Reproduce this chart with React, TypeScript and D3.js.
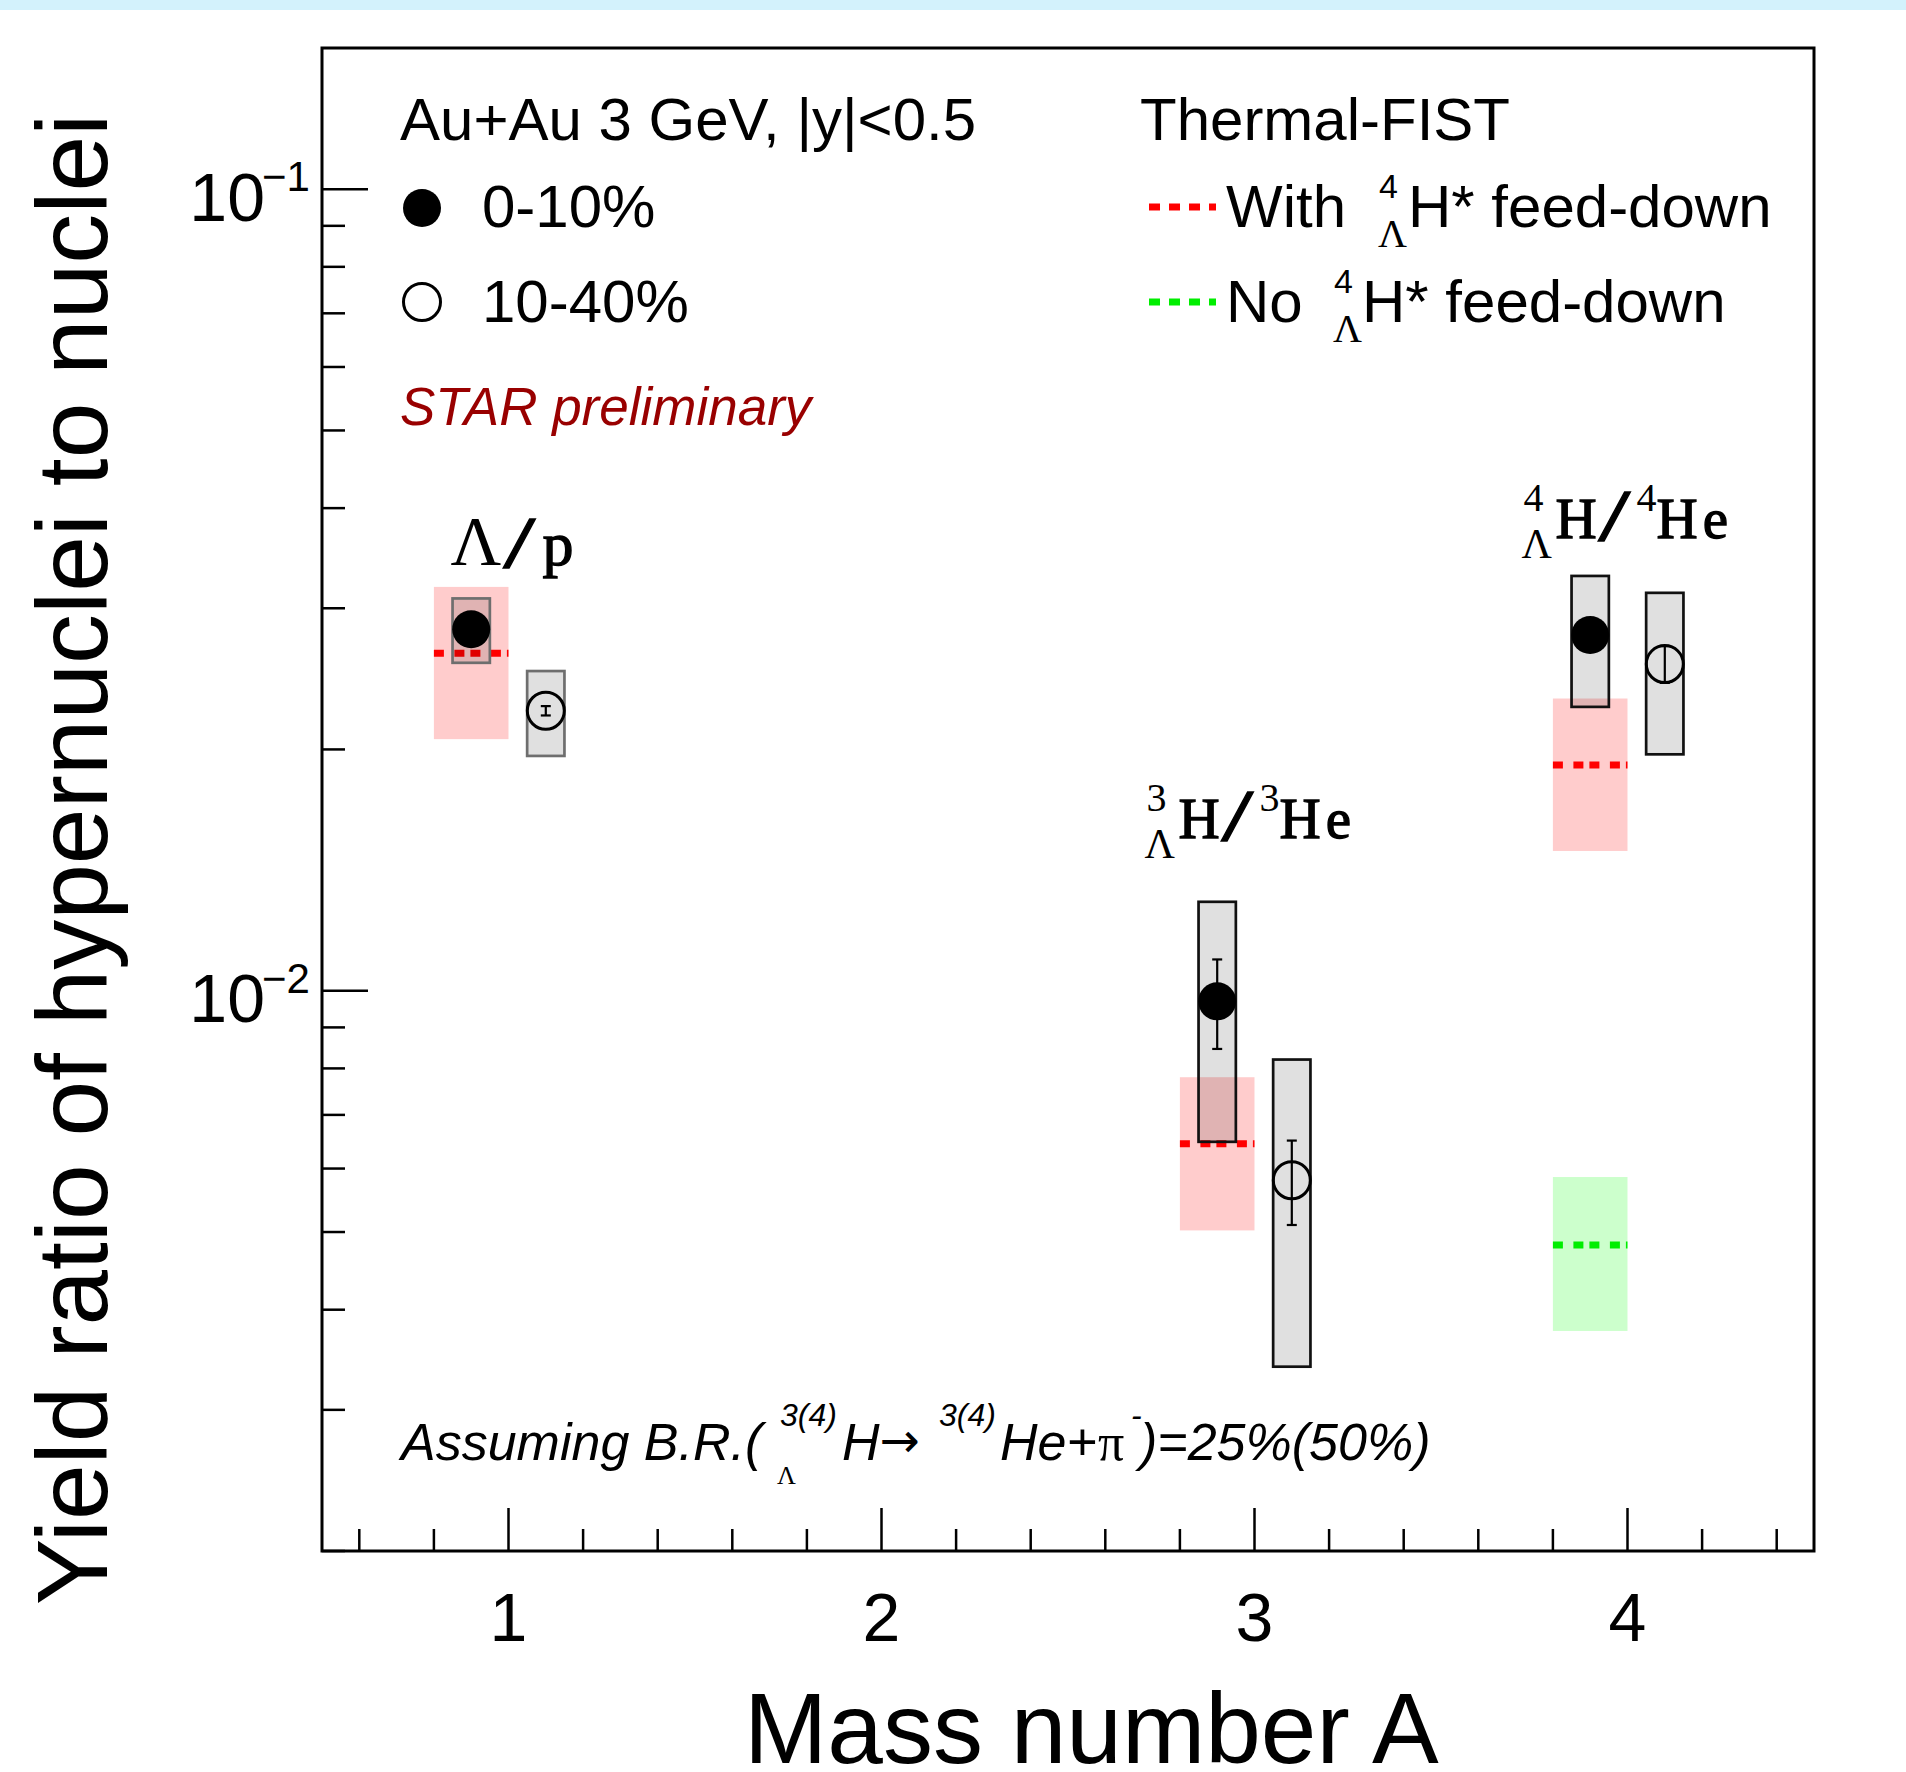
import React from "react";
import * as d3 from "d3";

// ---------------- data ----------------
const massNumbers = [1, 3, 4];
const ratioNames = ["Λ/p", "3ΛH/3He", "4ΛH/4He"];
const nucleusSymbols = ["p", "He", "He"];

// 0-10% centrality
const central010 = [0.02825, 0.0097, 0.02778];
const stat010 = [0.0003, 0.00124, 0.0008];
const sysLow010 = [0.02565, 0.006479, 0.0226];
const sysHigh010 = [0.03086, 0.01291, 0.03292];

// 10-40% centrality
const central1040 = [0.02235, 0.005802, 0.02556];
const stat1040 = [0.0003, 0.0007, 0.00135];
const sysLow1040 = [0.01963, 0.003396, 0.01972];
const sysHigh1040 = [0.02505, 0.008206, 0.03136];

// Thermal-FIST, with 4ΛH* feed-down
const fistWith = [0.02636, 0.006442, 0.01912];
const fistWithLow = [0.0206, 0.005023, 0.01494];
const fistWithHigh = [0.0319, 0.0078, 0.02315];

// Thermal-FIST, no 4ΛH* feed-down (A = 4 only)
const fistNoMass = [4];
const fistNo = [0.004818];
const fistNoLow = [0.003763];
const fistNoHigh = [0.005856];

const xTickValues = [1, 2, 3, 4];
const yMajorTicks = [0.01, 0.1];
const yMajorExponents = ["−2", "−1"];

// ---------------- layout ----------------
const W = 1906;
const H = 1772;
const plot = { left: 322, right: 1814, top: 48, bottom: 1551 };
const SANS = "'Liberation Sans', Arial, Helvetica, sans-serif";
const SERIF = "'Liberation Serif', 'Times New Roman', serif";
const MONO = "'Liberation Mono', monospace";

const x = d3.scaleLinear().domain([0.5, 4.5]).range([plot.left, plot.right]);
const y = d3.scaleLog().domain([0.002, 0.15]).range([plot.bottom, plot.top]);

const dataOffset = 0.1; // 0-10% at A-0.1, 10-40% at A+0.1
const boxHalf = 0.05;
const modelLeft = 0.2; // model band from A-0.2 to A

function HyperLabel({ x0, base, a, nuc }: { x0: number; base: number; a: string; nuc: string }) {
  return (
    <g fill="#000">
      <text x={x0 + 2} y={base - 27} fontFamily={SERIF} fontSize={40}>{a}</text>
      <text x={x0} y={base + 20} fontFamily={SERIF} fontSize={42}>Λ</text>
      <text x={x0 + 34} y={base} fontFamily={SERIF} fontSize={57} stroke="#000" strokeWidth={1.3}>H</text>
      <text x={x0 + 73} y={base + 2} fontFamily={MONO} fontSize={66} stroke="#000" strokeWidth={1.4}>/</text>
      <text x={x0 + 115} y={base - 27} fontFamily={SERIF} fontSize={40}>{a}</text>
      <text x={x0 + 135} y={base} fontFamily={SERIF} fontSize={57} letterSpacing={5} stroke="#000" strokeWidth={1.3}>{nuc}</text>
    </g>
  );
}

export default function App() {
  const minorX = d3
    .range(3, 23)
    .map((i) => i * 0.2)
    .filter((v) => Math.abs(v - Math.round(v)) > 1e-6);
  const yTicks = y.ticks().filter((t) => t >= 0.002 && t <= 0.15);
  const isMajorY = (t: number) => yMajorTicks.some((m) => Math.abs(t - m) / m < 1e-6);

  const bands = massNumbers.map((a, i) => ({
    x0: x(a - modelLeft),
    x1: x(a),
    yc: y(fistWith[i]),
    ylo: y(fistWithLow[i]),
    yhi: y(fistWithHigh[i]),
  }));
  const greenBands = fistNoMass.map((a, i) => ({
    x0: x(a - modelLeft),
    x1: x(a),
    yc: y(fistNo[i]),
    ylo: y(fistNoLow[i]),
    yhi: y(fistNoHigh[i]),
  }));

  const series = [
    { c: central010, s: stat010, lo: sysLow010, hi: sysHigh010, off: -dataOffset, filled: true },
    { c: central1040, s: stat1040, lo: sysLow1040, hi: sysHigh1040, off: dataOffset, filled: false },
  ];

  const dashData = "10 10.5 10 6";

  return (
    <svg
      width={W}
      height={H}
      viewBox={`0 0 ${W} ${H}`}
      style={{ position: "absolute", left: 0, top: 0, background: "#fff" }}
    >
      <rect x={0} y={0} width={W} height={H} fill="#fff" />
      <rect x={0} y={0} width={W} height={10} fill="#d3f2fc" />

      {/* model bands */}
      {bands.map((b, i) => (
        <rect key={`pb${i}`} x={b.x0} y={b.yhi} width={b.x1 - b.x0} height={b.ylo - b.yhi} fill="rgba(255,0,0,0.2)" />
      ))}
      {greenBands.map((b, i) => (
        <rect key={`gb${i}`} x={b.x0} y={b.yhi} width={b.x1 - b.x0} height={b.ylo - b.yhi} fill="rgba(0,255,0,0.2)" />
      ))}
      {bands.map((b, i) => (
        <line key={`pl${i}`} x1={b.x0} x2={b.x1} y1={b.yc} y2={b.yc} stroke="#ff0000" strokeWidth={7} strokeDasharray={dashData} />
      ))}
      {greenBands.map((b, i) => (
        <line key={`gl${i}`} x1={b.x0} x2={b.x1} y1={b.yc} y2={b.yc} stroke="#00ee00" strokeWidth={7} strokeDasharray={dashData} />
      ))}

      {/* systematic boxes */}
      {series.map((sr, si) =>
        massNumbers.map((a, i) => (
          <rect
            key={`box${si}-${i}`}
            x={x(a + sr.off - boxHalf)}
            y={y(sr.hi[i])}
            width={x(a + sr.off + boxHalf) - x(a + sr.off - boxHalf)}
            height={y(sr.lo[i]) - y(sr.hi[i])}
            fill="rgba(0,0,0,0.12)"
            stroke={a === 1 ? "#6e6e6e" : "#111"}
            strokeWidth={2.7}
          />
        ))
      )}

      {/* stat error bars */}
      {series.map((sr, si) =>
        massNumbers.map((a, i) => {
          const cx = x(a + sr.off);
          const y1 = y(sr.c[i] + sr.s[i]);
          const y2 = y(sr.c[i] - sr.s[i]);
          return (
            <g key={`err${si}-${i}`} stroke="#000" strokeWidth={2.2}>
              <line x1={cx} x2={cx} y1={y1} y2={y2} />
              <line x1={cx - 5} x2={cx + 5} y1={y1} y2={y1} />
              <line x1={cx - 5} x2={cx + 5} y1={y2} y2={y2} />
            </g>
          );
        })
      )}

      {/* markers */}
      {series.map((sr, si) =>
        massNumbers.map((a, i) =>
          sr.filled ? (
            <circle key={`m${si}-${i}`} cx={x(a + sr.off)} cy={y(sr.c[i])} r={19} fill="#000" />
          ) : (
            <circle key={`m${si}-${i}`} cx={x(a + sr.off)} cy={y(sr.c[i])} r={18.5} fill="none" stroke="#000" strokeWidth={3} />
          )
        )
      )}

      {/* frame */}
      <rect x={plot.left} y={plot.top} width={plot.right - plot.left} height={plot.bottom - plot.top} fill="none" stroke="#000" strokeWidth={3} />

      {/* x ticks */}
      {xTickValues.map((t) => (
        <line key={`xt${t}`} x1={x(t)} x2={x(t)} y1={plot.bottom} y2={plot.bottom - 43} stroke="#000" strokeWidth={2.5} />
      ))}
      {minorX.map((t) => (
        <line key={`xm${t}`} x1={x(t)} x2={x(t)} y1={plot.bottom} y2={plot.bottom - 22} stroke="#000" strokeWidth={2.5} />
      ))}
      {xTickValues.map((t) => (
        <text key={`xl${t}`} x={x(t)} y={1641} textAnchor="middle" fontFamily={SANS} fontSize={68} fill="#000">
          {t}
        </text>
      ))}

      {/* y ticks */}
      {yTicks.map((t) => (
        <line
          key={`yt${t}`}
          x1={plot.left}
          x2={plot.left + (isMajorY(t) ? 46 : 23)}
          y1={y(t)}
          y2={y(t)}
          stroke="#000"
          strokeWidth={2.5}
        />
      ))}
      {yMajorTicks.map((t, i) => (
        <g key={`yl${t}`} fontFamily={SANS} fill="#000">
          <text x={265} y={y(t) + 31.5} textAnchor="end" fontSize={68}>10</text>
          <text x={262} y={y(t) + 2} fontSize={42}>{yMajorExponents[i]}</text>
        </g>
      ))}

      {/* axis titles */}
      <text x={744} y={1763} fontFamily={SANS} fontSize={100} fill="#000">Mass number A</text>
      <text
        transform={`translate(107, ${(plot.top + plot.bottom) / 2 + 60}) rotate(-90)`}
        textAnchor="middle"
        fontFamily={SANS}
        fontSize={100}
        fill="#000"
      >
        Yield ratio of hypernuclei to nuclei
      </text>

      {/* group labels */}
      <g fill="#000">
        <text x={x(1) - 58} y={565} fontFamily={SERIF} fontSize={70}>Λ</text>
        <text x={x(1) - 9} y={567} fontFamily={MONO} fontSize={66} stroke="#000" strokeWidth={1.4}>/</text>
        <text x={x(1) + 34} y={565} fontFamily={SERIF} fontSize={62} stroke="#000" strokeWidth={1.3}>{nucleusSymbols[0]}</text>
      </g>
      <HyperLabel x0={x(3) - 110} base={838} a={String(massNumbers[1])} nuc={nucleusSymbols[1]} />
      <HyperLabel x0={x(4) - 106} base={538} a={String(massNumbers[2])} nuc={nucleusSymbols[2]} />

      {/* left legend */}
      <text x={400} y={140} fontFamily={SANS} fontSize={60} fill="#000">Au+Au 3 GeV, |y|&lt;0.5</text>
      <circle cx={422} cy={208} r={19} fill="#000" />
      <text x={482} y={227} fontFamily={SANS} fontSize={60} fill="#000">0-10%</text>
      <circle cx={422} cy={302} r={18.5} fill="none" stroke="#000" strokeWidth={3} />
      <text x={482} y={322} fontFamily={SANS} fontSize={60} fill="#000">10-40%</text>
      <text x={400} y={425} fontFamily={SANS} fontStyle="italic" fontSize={53} fill="#990000">STAR preliminary</text>

      {/* right legend */}
      <text x={1140} y={140} fontFamily={SANS} fontSize={60} fill="#000">Thermal-FIST</text>
      <line x1={1149} x2={1216} y1={207} y2={207} stroke="#ff0000" strokeWidth={7} strokeDasharray="11 9" />
      <text x={1226} y={227} fontFamily={SANS} fontSize={60} fill="#000">With</text>
      <text x={1379} y={198} fontFamily={SANS} fontSize={34} fill="#000">4</text>
      <text x={1378} y={247} fontFamily={SERIF} fontSize={40} fill="#000">Λ</text>
      <text x={1408} y={227} fontFamily={SANS} fontSize={60} fill="#000">H* feed-down</text>
      <line x1={1149} x2={1216} y1={302} y2={302} stroke="#00ee00" strokeWidth={7} strokeDasharray="11 9" />
      <text x={1226} y={322} fontFamily={SANS} fontSize={60} fill="#000">No</text>
      <text x={1334} y={293} fontFamily={SANS} fontSize={34} fill="#000">4</text>
      <text x={1333} y={342} fontFamily={SERIF} fontSize={40} fill="#000">Λ</text>
      <text x={1362} y={322} fontFamily={SANS} fontSize={60} fill="#000">H* feed-down</text>

      {/* branching-ratio note */}
      <g fontFamily={SANS} fontStyle="italic" fill="#000">
        <text x={401} y={1460} fontSize={52}>Assuming B.R.(</text>
        <text x={780} y={1426} fontSize={32}>3(4)</text>
        <text x={777} y={1484} fontSize={26} fontFamily={SERIF} fontStyle="normal">Λ</text>
        <text x={842} y={1460} fontSize={52}>
          H<tspan fontSize={48} fontFamily="'DejaVu Sans', sans-serif" fontStyle="normal" dy={-3}>→</tspan>
        </text>
        <text x={939} y={1426} fontSize={32}>3(4)</text>
        <text x={1000} y={1460} fontSize={52}>He+</text>
        <text x={1098} y={1460} fontSize={52} fontFamily={SERIF} fontStyle="normal">π</text>
        <text x={1131} y={1426} fontSize={32}>-</text>
        <text x={1140} y={1460} fontSize={52}>)=25%(50%)</text>
      </g>
    </svg>
  );
}
